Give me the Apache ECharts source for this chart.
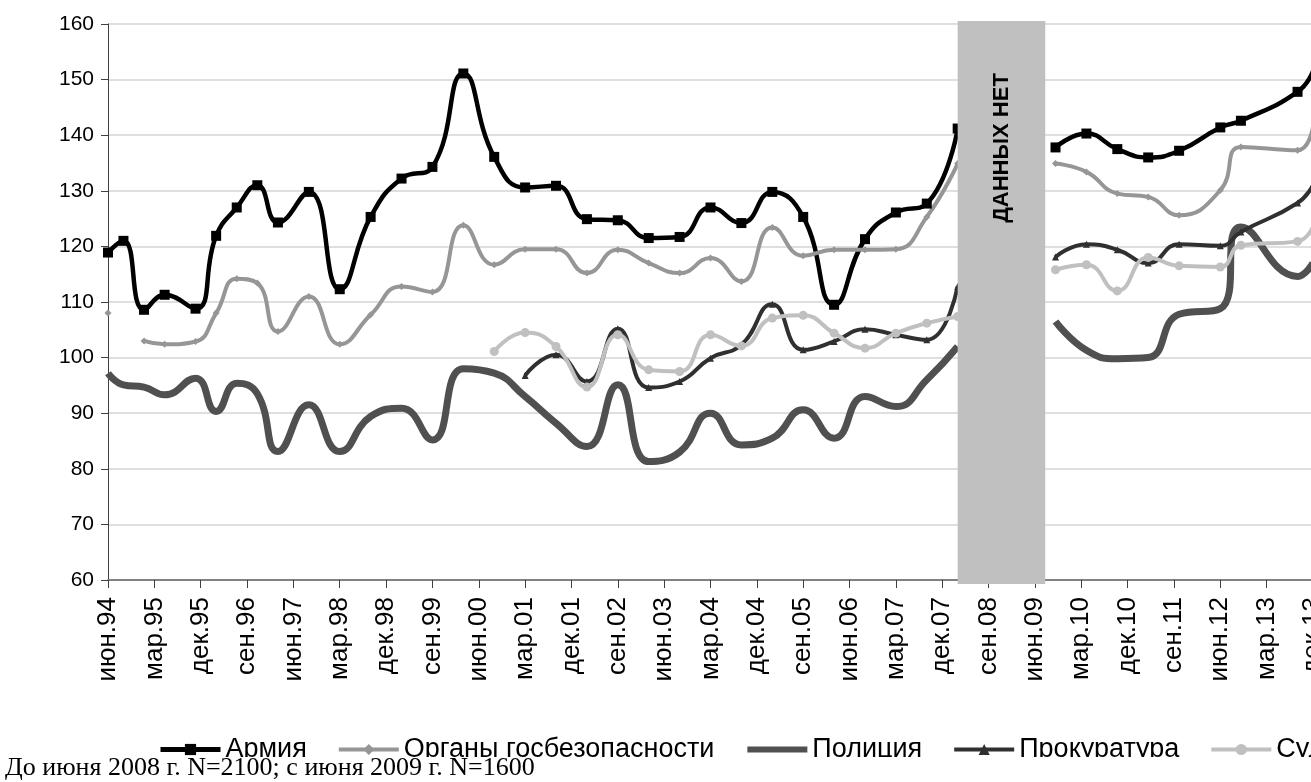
<!DOCTYPE html>
<html lang="ru">
<head>
    <meta charset="UTF-8">
    <title>Доверие к силовым структурам</title>
    <script src="https://cdn.jsdelivr.net/npm/echarts@6/dist/echarts.min.js"></script>
    <style>
        html, body, #chart {
            width: 1311px;
            height: 782px;
            padding: 0;
            margin: 0;
            background: #fff;
            overflow: hidden;
        }
    </style>
</head>
<body>
<div id="chart"></div>
<script>
    // month abbreviations used in the axis labels
    var monthNames = ["янв", "фев", "мар", "апр", "май", "июн", "июл", "авг", "сен", "окт", "ноя", "дек"];

    // survey dates; "дек.08" falls in the gap with no data
    var surveyDates = ["июн.94", "сен.94", "янв.95", "май.95", "ноя.95", "мар.96", "июл.96", "ноя.96",
        "мар.97", "сен.97", "мар.98", "сен.98", "мар.99", "сен.99", "мар.00", "сен.00", "мар.01", "сен.01",
        "мар.02", "сен.02", "мар.03", "сен.03", "мар.04", "сен.04", "мар.05", "сен.05", "мар.06", "сен.06",
        "мар.07", "сен.07", "мар.08", "дек.08", "окт.09", "апр.10", "окт.10", "апр.11", "окт.11", "июн.12",
        "окт.12", "сен.13", "дек.13"];

    var armyValues = [118.9, 121.0, 108.6, 111.3, 108.8, 121.9, 127.0, 131.0,
        124.3, 129.8, 112.3, 125.3, 132.2, 134.3, 151.1, 136.1, 130.6, 130.9,
        124.9, 124.7, 121.5, 121.7, 127.0, 124.2, 129.8, 125.3, 109.5, 121.3,
        126.1, 127.7, 141.2, null, 137.8, 140.3, 137.5, 136.0, 137.2, 141.4,
        142.6, 147.8, 151.5];
    var securityValues = [108.0, null, 103.0, 102.4, 102.9, 108.0, 114.2, 113.4,
        104.7, 111.0, 102.4, 107.7, 112.8, 111.8, 123.8, 116.7, 119.5, 119.5,
        115.2, 119.4, 117.0, 115.2, 117.9, 113.7, 123.4, 118.3, 119.4, 119.4,
        119.5, 125.3, 134.9, null, 134.9, 133.4, 129.5, 128.9, 125.6, 130.1,
        137.9, 137.3, 141.5];
    var policeValues = [97.2, 95.1, 94.7, 93.3, 96.3, 90.3, 95.4, 93.5,
        83.1, 91.5, 83.1, 89.4, 90.9, 85.2, 98.0, 97.2, 93.0, 88.2,
        84.0, 95.1, 81.3, 83.0, 90.0, 84.3, 85.5, 90.6, 85.5, 93.0,
        91.2, 96.0, 102.0, null, 106.5, 101.3, 99.8, 100.0, 107.8, 108.8,
        123.5, 114.6, 117.0];
    var prosecutorValues = [null, null, null, null, null, null, null, null,
        null, null, null, null, null, null, null, null, 96.8, 100.5,
        95.7, 105.2, 94.6, 95.7, 99.9, 102.3, 109.6, 101.4, 102.9, 105.1,
        104.1, 103.2, 112.8, null, 118.1, 120.4, 119.4, 117.0, 120.4, 120.1,
        122.6, 127.8, 131.0];
    var courtsValues = [null, null, null, null, null, null, null, null,
        null, null, null, null, null, null, null, 101.1, 104.5, 102.0,
        94.7, 104.1, 97.8, 97.5, 104.1, 102.1, 107.1, 107.6, 104.4, 101.7,
        104.4, 106.2, 107.4, null, 115.8, 116.7, 112.0, 118.0, 116.5, 116.3,
        120.2, 120.9, 123.5];

    // monthly categories from июн.94 to дек.13
    var categories = [];
    for (var m = 0; m <= 234; m++) {
        var t = 5 + m;
        var yy = (94 + Math.floor(t / 12)) % 100;
        categories.push(monthNames[t % 12] + "." + (yy < 10 ? "0" + yy : "" + yy));
    }

    function toPairs(values) {
        return surveyDates.map(function (d, i) {
            var item = {value: [categories.indexOf(d), values[i] == null ? "-" : values[i]]};
            if (d === "дек.13") {
                item.symbol = "none";
            }
            return item;
        });
    }

    function lineSeries(name, values, color, width, symbol, size) {
        return {
            name: name,
            type: "line",
            data: toPairs(values),
            smooth: 0.5,
            connectNulls: false,
            showAllSymbol: true,
            symbol: symbol,
            symbolSize: size,
            lineStyle: {color: color, width: width},
            itemStyle: {color: color},
            emphasis: {disabled: true}
        };
    }

    var chart = echarts.init(document.getElementById("chart"));
    chart.setOption({
        animation: false,
        textStyle: {fontFamily: "Liberation Sans"},
        grid: {left: 108, top: 24, width: 1205, height: 556, outerBoundsMode: "none", containLabel: false},
        legend: {
            left: 158,
            top: 736,
            width: 1600,
            padding: 0,
            itemGap: 30,
            itemWidth: 60,
            itemHeight: 14,
            textStyle: {fontSize: 27, color: "#000", fontFamily: "Liberation Sans"},
            data: [
                {name: "Армия", lineStyle: {width: 5}},
                {name: "Органы госбезопасности", lineStyle: {width: 4}},
                {name: "Полиция", lineStyle: {width: 6}, itemStyle: {opacity: 0}},
                {name: "Прокуратура", lineStyle: {width: 4}},
                {name: "Суды", lineStyle: {width: 4}}
            ]
        },
        xAxis: {
            type: "category",
            data: categories,
            boundaryGap: false,
            axisLine: {lineStyle: {color: "#808080", width: 2}},
            axisTick: {interval: 8, length: 8, lineStyle: {color: "#404040"}},
            axisLabel: {
                interval: 8,
                rotate: 90,
                fontSize: 26,
                color: "#000",
                margin: 17
            },
            splitLine: {show: false}
        },
        yAxis: {
            type: "value",
            min: 60,
            max: 160,
            interval: 10,
            axisLine: {show: true, lineStyle: {color: "#404040", width: 1}},
            axisTick: {show: true, length: 7, lineStyle: {color: "#404040"}},
            axisLabel: {fontSize: 21, color: "#000", margin: 14},
            splitLine: {lineStyle: {color: "#d4d4d4", width: 1.5}}
        },
        series: [
            lineSeries("Армия", armyValues, "#000000", 4.5, "rect", 10),
            lineSeries("Органы госбезопасности", securityValues, "#969696", 4, "diamond", 7),
            lineSeries("Полиция", policeValues, "#505050", 7, "none", 0),
            lineSeries("Прокуратура", prosecutorValues, "#303030", 4, "triangle", 7),
            lineSeries("Суды", courtsValues, "#c0c0c0", 4, "circle", 9)
        ]
    });

    // grey "no data" band between the two survey periods
    var bandLeft = chart.convertToPixel({xAxisIndex: 0}, categories.indexOf("мар.08"));
    var bandRight = chart.convertToPixel({xAxisIndex: 0}, categories.indexOf("авг.09"));
    chart.setOption({
        graphic: [{
            type: "rect",
            z: 100,
            shape: {x: bandLeft, y: 21, width: bandRight - bandLeft, height: 563},
            style: {fill: "#c0c0c0"}
        }, {
            type: "text",
            z: 101,
            x: (bandLeft + bandRight) / 2,
            y: 148,
            rotation: Math.PI / 2,
            style: {
                text: "ДАННЫХ НЕТ",
                font: "bold 22px Liberation Sans",
                fill: "#000",
                align: "center",
                verticalAlign: "middle"
            }
        }, {
            type: "rect",
            z: 100,
            shape: {x: 0, y: 757, width: 1311, height: 25},
            style: {fill: "#fff"}
        }, {
            type: "text",
            z: 101,
            x: 5,
            y: 755,
            style: {
                text: "До июня 2008 г. N=2100; с июня 2009 г. N=1600",
                font: "26px Liberation Serif",
                fill: "#000",
                verticalAlign: "top"
            }
        }]
    });
</script>
</body>
</html>
